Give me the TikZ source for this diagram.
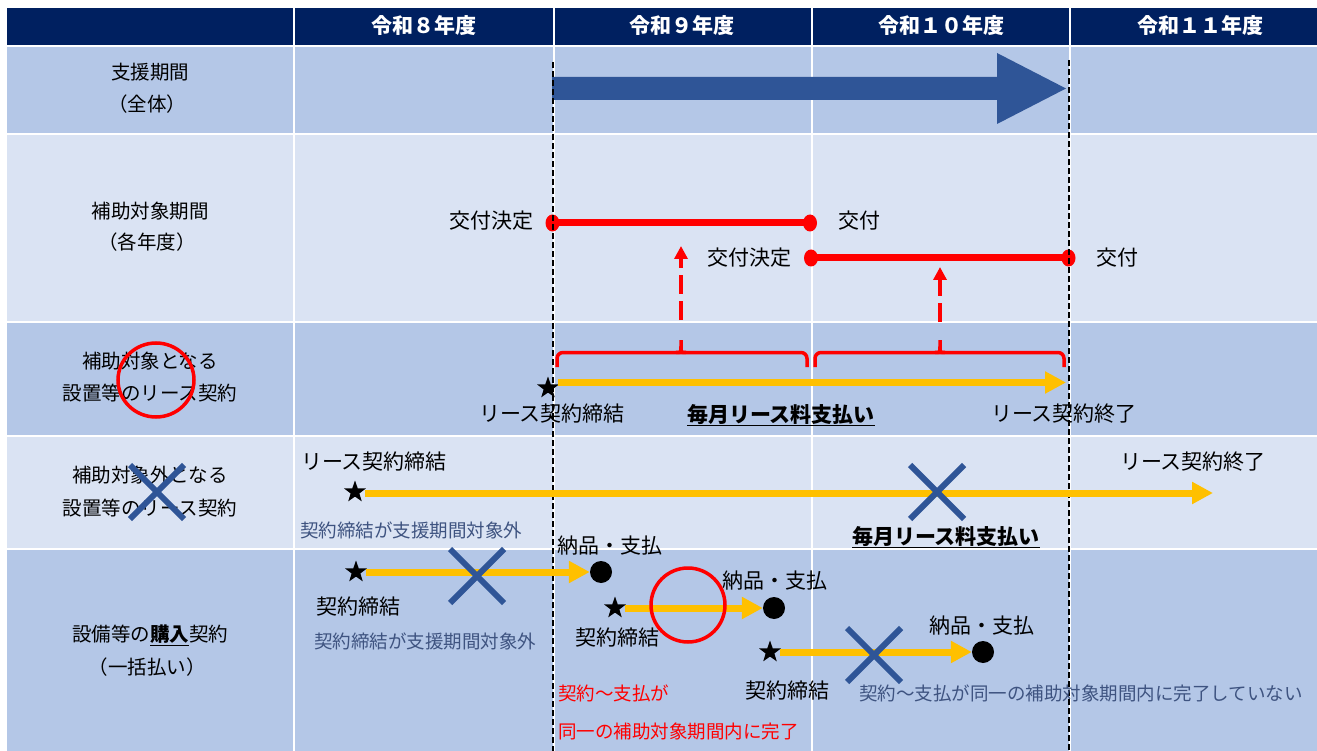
\documentclass[tikz,border=0pt]{standalone}
\usepackage{fontspec}
\setmainfont{Noto Sans CJK JP}
\usetikzlibrary{arrows.meta,shapes.geometric}
\definecolor{hdrc}{HTML}{002060}
\definecolor{rowA}{HTML}{B4C7E7}
\definecolor{rowB}{HTML}{DAE3F3}
\definecolor{navyc}{HTML}{2F5597}
\definecolor{goldc}{HTML}{FFC000}
\definecolor{redc}{HTML}{FF0000}
\definecolor{notec}{HTML}{3E5380}
\tikzset{
  hdrtxt/.style={inner sep=0pt, anchor=base, text=white, font=\fontsize{21pt}{21pt}\selectfont\bfseries},
  side/.style={inner sep=0pt, anchor=base, font=\fontsize{19.5pt}{20pt}\selectfont},
  lbl/.style={inner sep=0pt, anchor=base, font=\fontsize{21pt}{21pt}\selectfont},
  notetxt/.style={inner sep=0pt, anchor=base west, text=notec, font=\fontsize{18.5pt}{19pt}\selectfont},
  rnotetxt/.style={notetxt, text=redc},
  rdot/.style={ellipse, fill=redc, minimum width=14pt, minimum height=17pt, inner sep=0pt},
  bdot/.style={circle, fill=black, minimum size=22pt, inner sep=0pt},
  starmark/.style={star, star points=5, star point ratio=2.5, fill=black, minimum size=23pt, inner sep=0pt},
  redline/.style={draw=redc, line width=7pt},
  rdasharrow/.style={draw=redc, line width=4pt, dash pattern=on 19pt off 7pt, -{Triangle[length=13pt,width=13pt]}},
  rbrace/.style={draw=redc, line width=3.5pt},
  yarrow/.style={draw=goldc, line width=7pt, -{Triangle[length=21pt,width=21pt]}},
  vdash/.style={draw=black, line width=2pt, dash pattern=on 6pt off 3pt},
  crossmark/.pic={\draw[navyc, line width=6pt] (-27,-27) -- (27,27) (-27,27) -- (27,-27);},
  ringmark/.style={draw=redc, line width=3.5pt}
}
\begin{document}
\begin{tikzpicture}[x=1pt,y=-1pt]
\useasboundingbox (0,0) rectangle (1317,751);
\fill[white] (0,0) rectangle (1317,751);
% table cells
\foreach \xa/\xb in {7/293,295/552.5,554.5/811,812.5/1068.5,1070.5/1317} {
  \fill[hdrc] (\xa,8) rectangle (\xb,45);
}
\foreach \ya/\yb/\c in {47/133/rowA,135/321/rowB,323/435/rowA,437/548/rowB,550/751/rowA} {
  \foreach \xa/\xb in {7/293,295/552.5,554.5/811,812.5/1068.5,1070.5/1317} {
    \fill[\c] (\xa,\ya) rectangle (\xb,\yb);
  }
}
% header texts
\node[hdrtxt] (h8) at (424,34) {令和８年度};
\node[hdrtxt] (h9) at (682,34) {令和９年度};
\node[hdrtxt] (h10) at (941,34) {令和１０年度};
\node[hdrtxt] (h11) at (1200,34) {令和１１年度};
% side labels
\node[side] (l1a) at (150,79.5) {支援期間};
\node[side] (l1b) at (147,111.5) {（全体）};
\node[side] (l2a) at (150,218.5) {補助対象期間};
\node[side] (l2b) at (147,249.5) {（各年度）};
\node[side] (l3a) at (150,368.5) {補助対象となる};
\node[side] (l3b) at (150,400.5) {設置等のリース契約};
\node[side] (l4a) at (150,482.5) {補助対象外となる};
\node[side] (l4b) at (150,515.5) {設置等のリース契約};
\node[side] (l5a) at (150,641.5) {設備等の\underline{\textbf{購入}}契約};
\node[side] (l5b) at (147,674.5) {（一括払い）};
% support period big arrow
\fill[navyc] (552,77) -- (997,77) -- (997,53) -- (1066,88.5) -- (997,124) -- (997,100) -- (552,100) -- cycle;
% subsidy periods
\node[rdot] (k1) at (552.5,223) {};
\node[rdot] (k2) at (810,223) {};
\node[rdot] (k3) at (811,258) {};
\node[rdot] (k4) at (1068.5,258) {};
\draw[redline] (k1.center) -- (k2.center);
\draw[redline] (k3.center) -- (k4.center);
\node[lbl] (kd1) at (491,229) {交付決定};
\node[lbl] (kf1) at (859,229) {交付};
\node[lbl] (kd2) at (749,266) {交付決定};
\node[lbl] (kf2) at (1117,266) {交付};
% dashed red arrows
\coordinate (a1b) at (681,320);
\coordinate (a1t) at (681,246);
\coordinate (a2b) at (940,322);
\coordinate (a2t) at (940,267);
\draw[rdasharrow] (a1b) -- (a1t);
\draw[rdasharrow] (a2b) -- (a2t);
% braces
\draw[rbrace, rounded corners=6pt] (557,367) -- (557,352.5) -- (807,352.5) -- (807,367);
\draw[rbrace] (676,352.5) .. controls (681,352.5) .. (681,346) -- (681,340) -- (681,346) .. controls (681,352.5) .. (686,352.5);
\draw[rbrace, rounded corners=6pt] (815,367) -- (815,352.5) -- (1064,352.5) -- (1064,367);
\draw[rbrace] (935,352.5) .. controls (940,352.5) .. (940,346) -- (940,340) -- (940,346) .. controls (940,352.5) .. (945,352.5);
% vertical dashed lines
\coordinate (v1t) at (552.5,62);
\coordinate (v1b) at (552.5,751);
\coordinate (v2t) at (1068.5,60);
\coordinate (v2b) at (1068.5,751);
\draw[vdash] (v1t) -- (v1b);
\draw[vdash] (v2t) -- (v2b);
% row 3: eligible lease
\node[starmark] (s3) at (548,388) {};
\coordinate (t3) at (1066,382.5);
\draw[yarrow] ([xshift=10pt]s3.center |- t3) -- (t3);
\node[lbl] (s3l) at (552,421) {リース契約締結};
\node[lbl] (p3l) at (781,422) {\underline{\textbf{毎月リース料支払い}}};
\node[lbl] (e3l) at (1064,421) {リース契約終了};
% row 4: ineligible lease
\node[starmark] (s4) at (355,492) {};
\coordinate (t4) at (1213,493);
\draw[yarrow] ([xshift=10pt]s4.center |- t4) -- (t4);
\node[lbl] (s4l) at (374,469) {リース契約締結};
\node[lbl] (e4l) at (1193,469) {リース契約終了};
\node[lbl] (p4l) at (946,544) {\underline{\textbf{毎月リース料支払い}}};
\node[notetxt] (n4) at (300,537) {契約締結が支援期間対象外};
% row 5: purchase
\node[starmark] (s51) at (356,572) {};
\node[bdot] (d51) at (601,572) {};
\draw[yarrow] ([xshift=10pt]s51.center) -- (d51.west);
\node[starmark] (s52) at (615,608) {};
\node[bdot] (d52) at (774,608) {};
\draw[yarrow] ([xshift=10pt]s52.center) -- (d52.west);
\node[starmark] (s53) at (770,652) {};
\node[bdot] (d53) at (983,652) {};
\draw[yarrow] ([xshift=10pt]s53.center) -- (d53.west);
\node[lbl] (d51l) at (610,553) {納品・支払};
\node[lbl] (s51l) at (358,614) {契約締結};
\node[notetxt] (n51) at (314,648) {契約締結が支援期間対象外};
\node[lbl] (d52l) at (775,588) {納品・支払};
\node[lbl] (s52l) at (617,645) {契約締結};
\node[lbl] (d53l) at (982,633) {納品・支払};
\node[lbl] (s53l) at (787,698) {契約締結};
\node[rnotetxt] (r1) at (558,700) {契約～支払が};
\node[rnotetxt] (r2) at (558,738) {同一の補助対象期間内に完了};
\node[notetxt] (n53) at (859,700) {契約～支払が同一の補助対象期間内に完了していない};
% crosses
\pic at (157,492) {crossmark};
\pic at (937,492) {crossmark};
\pic at (477,576) {crossmark};
\pic at (874,655) {crossmark};
% rings
\draw[ringmark] (156,380) ellipse [x radius=38pt, y radius=37pt];
\draw[ringmark] (688,605) ellipse [x radius=37pt, y radius=37pt];
\end{tikzpicture}
\end{document}
